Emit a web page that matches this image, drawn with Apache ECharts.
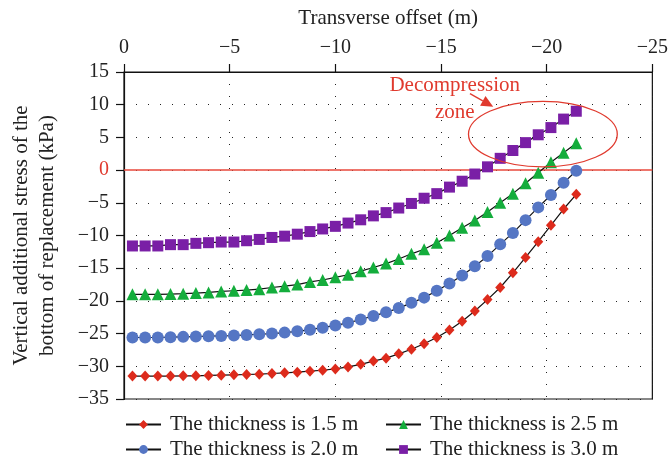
<!DOCTYPE html>
<html><head><meta charset="utf-8">
<script src="https://cdn.jsdelivr.net/npm/echarts@6/dist/echarts.min.js"></script>
<style>html,body{margin:0;padding:0;background:#fff}#c{width:671px;height:462px}</style>
</head><body><div id="c"></div>
<script>
const xOffsets = [-0.4,-1.0,-1.6,-2.2,-2.8,-3.4,-4.0,-4.6,-5.2,-5.8,-6.4,-7.0,-7.6,-8.2,-8.8,-9.4,-10.0,-10.6,-11.2,-11.8,-12.4,-13.0,-13.6,-14.2,-14.8,-15.4,-16.0,-16.6,-17.2,-17.8,-18.4,-19.0,-19.6,-20.2,-20.8,-21.4];
const t15 = [-31.5,-31.5,-31.5,-31.5,-31.45,-31.45,-31.4,-31.35,-31.3,-31.25,-31.2,-31.1,-31.0,-30.9,-30.75,-30.6,-30.4,-30.1,-29.7,-29.2,-28.75,-28.1,-27.4,-26.55,-25.6,-24.45,-23.1,-21.55,-19.8,-17.95,-15.7,-13.35,-10.95,-8.45,-5.95,-3.7];
const t20 = [-25.6,-25.6,-25.6,-25.55,-25.5,-25.45,-25.4,-25.35,-25.3,-25.2,-25.1,-25.0,-24.85,-24.65,-24.4,-24.1,-23.75,-23.35,-22.85,-22.3,-21.75,-21.1,-20.3,-19.5,-18.45,-17.35,-16.1,-14.7,-13.15,-11.35,-9.6,-7.65,-5.7,-3.8,-1.95,-0.1];
const t25 = [-19.0,-19.0,-19.0,-18.95,-18.9,-18.8,-18.7,-18.55,-18.45,-18.35,-18.2,-17.95,-17.75,-17.5,-17.1,-16.8,-16.4,-16.0,-15.45,-14.9,-14.3,-13.6,-12.8,-12.1,-11.1,-10.0,-8.8,-7.7,-6.4,-5.0,-3.6,-2.0,-0.4,1.2,2.65,4.1];
const t30 = [-11.6,-11.6,-11.6,-11.4,-11.4,-11.2,-11.1,-11.0,-11.0,-10.8,-10.6,-10.3,-10.1,-9.8,-9.4,-9.0,-8.6,-8.1,-7.6,-7.0,-6.5,-5.8,-5.1,-4.3,-3.6,-2.6,-1.7,-0.6,0.5,1.8,3.0,4.2,5.4,6.5,7.8,9.0];
const seriesNames = ['The thickness is 1.5 m','The thickness is 2.0 m','The thickness is 2.5 m','The thickness is 3.0 m'];
const xTitle = 'Transverse offset (m)';
const yTitle = 'Vertical additional stress of the\nbottom of replacement (kPa)';
const annoText = 'Decompression\nzone';

const FONT = 'Liberation Serif';
const RED = '#e03a2e';
const chart = echarts.init(document.getElementById('c'));
const pair = (ys) => ys.map((y, i) => [xOffsets[i], y]);
const fmt = v => String(v).replace('-', '\u2212');

function mk(name, data, color, symbol, size) {
  return {
    name, type: 'line', data: pair(data), symbol, symbolSize: size,
    lineStyle: { color: '#111', width: 1.2 },
    itemStyle: { color, borderWidth: 0 },
    emphasis: { disabled: true }, animation: false, z: 3
  };
}
const series = [
  mk(seriesNames[0], t15, '#dd2b1c', 'diamond', [10, 11]),
  mk(seriesNames[1], t20, '#5576c4', 'circle', 12),
  mk(seriesNames[2], t25, '#14ad3c', 'triangle', 12),
  mk(seriesNames[3], t30, '#7a1fa6', 'rect', 11)
];
series[0].markLine = {
  silent: true, symbol: 'none', label: { show: false }, animation: false,
  lineStyle: { color: '#e8483c', width: 1.6, type: 'solid' },
  data: [{ yAxis: 0 }], z: 2
};

const legendText = { fontFamily: FONT, fontSize: 21, color: '#222', padding: [0, 0, 0, 4] };
function lg(name, left, top) {
  return { left, top, padding: 0, orient: 'horizontal', itemWidth: 35, itemHeight: 11, itemGap: 8,
    data: [name], textStyle: legendText, selectedMode: false };
}
chart.setOption({
  animation: false,
  grid: { left: 124, top: 72, right: 16, bottom: 63, show: true, borderColor: '#111', borderWidth: 1.2, backgroundColor: 'transparent' },
  xAxis: {
    type: 'value', position: 'top', inverse: true, min: -25, max: 0, interval: 5,
    name: xTitle, nameLocation: 'middle', nameGap: 43,
    nameTextStyle: { fontFamily: FONT, fontSize: 21, color: '#222' },
    axisLine: { show: true, onZero: false, lineStyle: { color: '#111', width: 1.2 } },
    axisTick: { show: true, inside: false, length: 8, lineStyle: { color: '#111', width: 1.2 } },
    axisLabel: { fontFamily: FONT, fontSize: 20, color: '#222', margin: 14, formatter: fmt },
    splitLine: { show: true, lineStyle: { color: '#222', width: 1, type: [1, 11] } }
  },
  yAxis: {
    type: 'value', min: -35, max: 15, interval: 5,
    name: yTitle, nameLocation: 'middle', nameGap: 64, nameRotate: 90,
    nameTextStyle: { fontFamily: FONT, fontSize: 21, color: '#222', lineHeight: 26 },
    axisLine: { show: true, onZero: false, lineStyle: { color: '#111', width: 1.2 } },
    axisTick: { show: true, inside: false, length: 8, lineStyle: { color: '#111', width: 1.2 } },
    axisLabel: { fontFamily: FONT, fontSize: 20, margin: 15, formatter: fmt,
      color: v => (Number(v) === 0 ? RED : '#222') },
    splitLine: { show: true, lineStyle: { color: '#222', width: 1, type: [1, 11] } }
  },
  legend: [
    lg(seriesNames[0], 125, 414),
    lg(seriesNames[1], 125, 439),
    lg(seriesNames[2], 385, 414),
    lg(seriesNames[3], 385, 439)
  ],
  series
});

// Annotation (ellipse, arrow, text) positioned in data units
const ellipseCenter = [-19.82, 5.5];
const ellipseRadii = [3.52, 5.0];
const arrowFrom = [-16.37, 11.7];
const arrowTo = [-17.47, 9.68];
const textAt = [-15.65, 10.93];
function px(p) { return chart.convertToPixel({ xAxisIndex: 0, yAxisIndex: 0 }, p); }
const c = px(ellipseCenter);
const ex = px([ellipseCenter[0] - ellipseRadii[0], ellipseCenter[1] + ellipseRadii[1]]);
const rx = Math.abs(c[0] - ex[0]), ry = Math.abs(c[1] - ex[1]);
const a0 = px(arrowFrom), a1 = px(arrowTo);
const ang = Math.atan2(a1[1] - a0[1], a1[0] - a0[0]);
const hl = 12, hw = 5.5;
const base = [a1[0] - hl * Math.cos(ang), a1[1] - hl * Math.sin(ang)];
const head = [a1, [base[0] + hw * Math.sin(ang), base[1] - hw * Math.cos(ang)], [base[0] - hw * Math.sin(ang), base[1] + hw * Math.cos(ang)]];
const tp = px(textAt);
chart.setOption({
  graphic: [
    { type: 'ellipse', shape: { cx: c[0], cy: c[1], rx, ry }, style: { fill: 'none', stroke: RED, lineWidth: 1.3 }, z: 10, silent: true },
    { type: 'line', shape: { x1: a0[0], y1: a0[1], x2: base[0], y2: base[1] }, style: { stroke: RED, lineWidth: 1.3 }, z: 10, silent: true },
    { type: 'polygon', shape: { points: head }, style: { fill: RED }, z: 10, silent: true },
    { type: 'text', x: tp[0], y: tp[1], style: { text: annoText, fill: RED, font: '21px "Liberation Serif"', align: 'center', verticalAlign: 'middle', lineHeight: 27 }, z: 10, silent: true }
  ]
});
</script></body></html>
